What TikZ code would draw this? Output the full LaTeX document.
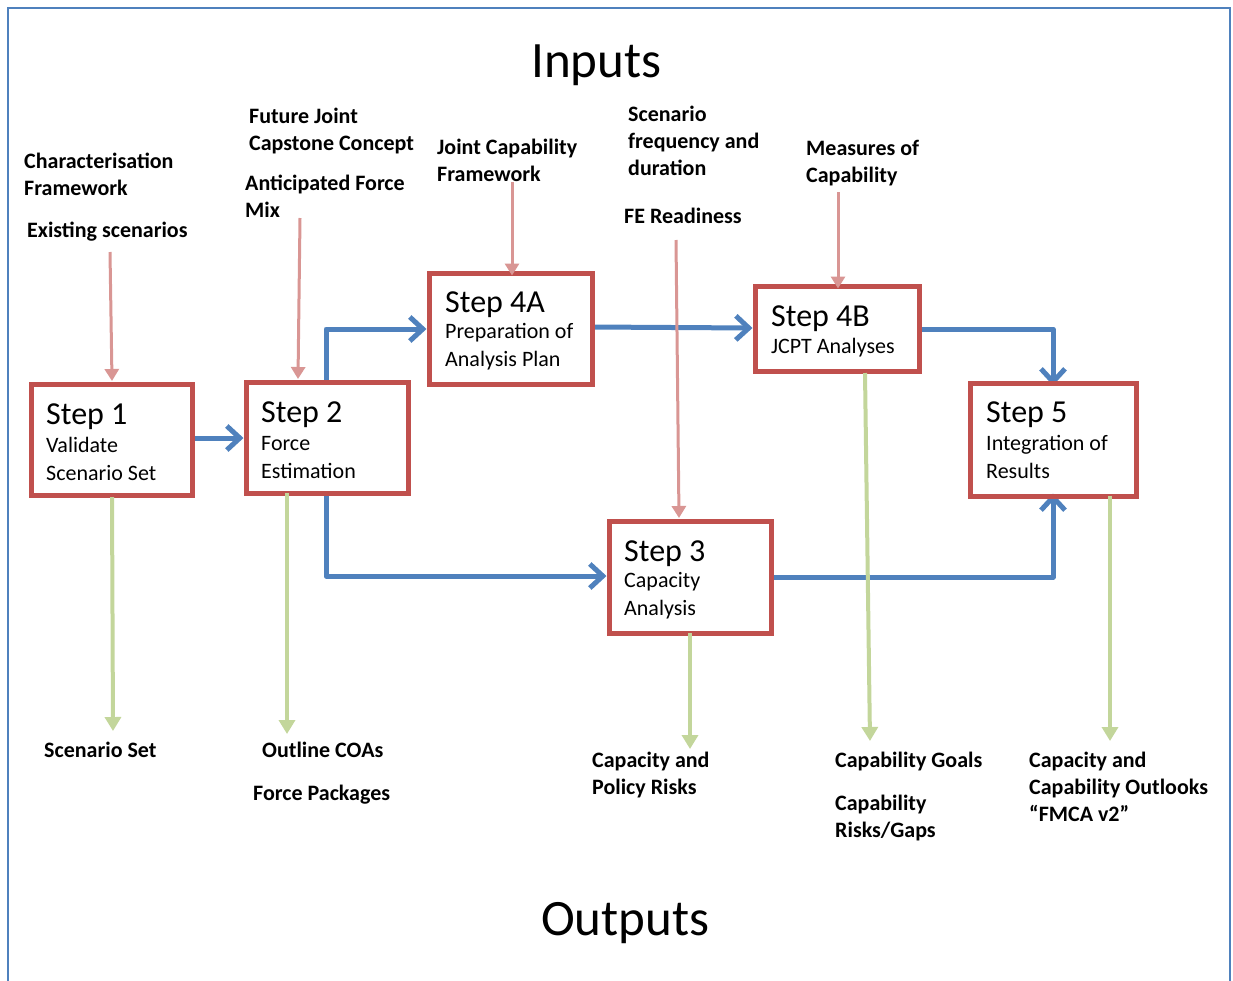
\documentclass[tikz,border=0pt]{standalone}
\usepackage{fontspec}
\setmainfont{Carlito}
\usetikzlibrary{arrows.meta}
\definecolor{boxred}{HTML}{C0504D}
\definecolor{flowblue}{HTML}{4F81BD}
\definecolor{inpink}{HTML}{D99694}
\definecolor{outgreen}{HTML}{C3D69B}
\newcommand\rows[1]{\begin{tabular}[t]{@{}l@{}}#1\end{tabular}}
\begin{document}
\begin{tikzpicture}[x=1pt,y=-1pt,
  stepbox/.style={draw=boxred,line width=5pt,fill=white,inner sep=0pt,outer sep=0pt},
  steptxt/.style={anchor=base west,inner sep=0pt,align=left,font=\fontsize{22}{27.5}\selectfont},
  lbl/.style={anchor=base west,inner sep=0pt,font=\fontsize{22}{27}\selectfont\bfseries},
  title/.style={anchor=base west,inner sep=0pt,font=\fontsize{51}{55}\selectfont},
  flow/.style={draw=flowblue,line width=5pt,line join=round,-{Straight Barb[length=13pt,width=24pt]}},
  inarrow/.style={draw=inpink,line width=3pt,-{Triangle[length=12pt,width=14pt]}},
  outarrow/.style={draw=outgreen,line width=4pt,-{Triangle[length=14pt,width=16pt]}}]
\useasboundingbox (0,0) rectangle (1233,980);
\draw[flowblue,line width=2pt] (7.5,990) -- (7.5,8) -- (1230,8) -- (1230,990);

% titles
\node[title] (inputs) at (531,77) {Inputs};
\node[title] (outputs) at (541,935) {Outputs};

% step boxes
\node[stepbox,minimum width=161pt,minimum height=111pt] (s1) at (111.5,439.5) {};
\node[stepbox,minimum width=162pt,minimum height=111pt] (s2) at (327,437.5) {};
\node[stepbox,minimum width=163pt,minimum height=111pt] (s4a) at (510.5,328.5) {};
\node[stepbox,minimum width=164pt,minimum height=85pt] (s4b) at (837,328.5) {};
\node[stepbox,minimum width=166pt,minimum height=113pt] (s5) at (1053,439.5) {};
\node[stepbox,minimum width=162pt,minimum height=112pt] (s3) at (690,577) {};

% flow connectors
\coordinate (c2u) at (326,329);
\coordinate (c2d) at (326,576);
\coordinate (c5u) at (1053,329);
\coordinate (c5d) at (1053,577);
\draw[flow] (s1.east |- 0,438) -- ([xshift=-2.5pt]s2.west |- 0,438);
\draw[flow] (s2.north -| c2u) -- (c2u) -- ([xshift=-2.5pt]s4a.west |- c2u);
\draw[flow] (s4a.east |- 0,327) -- ([xshift=-2.5pt]s4b.west |- 0,328);
\draw[flow] (s4b.east |- c5u) -- (c5u) -- ([yshift=-2.5pt]s5.north);
\draw[flow] (s2.south -| c2d) -- (c2d) -- ([xshift=-2.5pt]s3.west |- c2d);
\draw[flow] (s3.east |- c5d) -- (c5d) -- ([yshift=2.5pt]s5.south);

% redraw boxes on top of connector ends
\foreach \b in {s1,s2,s4a,s4b,s5,s3}
  \draw[boxred,line width=5pt] (\b.north west) rectangle (\b.south east);

% step texts
\node[steptxt] (t1) at (46,424) {\rows{\fontsize{32}{36}\selectfont Step 1\\[1pt]Validate\\Scenario Set}};
\node[steptxt] (t2) at (261,422) {\rows{\fontsize{32}{36}\selectfont Step 2\\[1pt]Force\\Estimation}};
\node[steptxt] (t4a) at (445,312) {\rows{\fontsize{32}{36}\selectfont Step 4A\\[-1pt]Preparation of\\Analysis Plan}};
\node[steptxt] (t4b) at (771,326) {\rows{\fontsize{32}{36}\selectfont Step 4B\\[0pt]JCPT Analyses}};
\node[steptxt] (t5) at (986,422) {\rows{\fontsize{32}{36}\selectfont Step 5\\[1pt]Integration of\\Results}};
\node[steptxt] (t3) at (624,561) {\rows{\fontsize{32}{36}\selectfont Step 3\\[-1pt]Capacity\\Analysis}};

% input labels
\node[lbl] (i1a) at (24,168) {\rows{Characterisation\\Framework}};
\node[lbl] (i1b) at (27,237) {Existing scenarios};
\node[lbl] (i2a) at (249,123) {\rows{Future Joint\\Capstone Concept}};
\node[lbl] (i2b) at (245,190) {\rows{Anticipated Force\\Mix}};
\node[lbl] (i4a) at (437,154) {\rows{Joint Capability\\Framework}};
\node[lbl] (i3a) at (628,121) {\rows{Scenario\\frequency and\\duration}};
\node[lbl] (i3b) at (624,223) {FE Readiness};
\node[lbl] (i4b) at (806,155) {\rows{Measures of\\Capability}};

% output labels
\node[lbl] (o1) at (44,757) {Scenario Set};
\node[lbl] (o2a) at (262,757) {Outline COAs};
\node[lbl] (o2b) at (253,800) {Force Packages};
\node[lbl] (o3) at (592,767) {\rows{Capacity and\\Policy Risks}};
\node[lbl] (o4a) at (835,767) {Capability Goals};
\node[lbl] (o4b) at (835,810) {\rows{Capability\\Risks/Gaps}};
\node[lbl] (o5) at (1029,767) {\rows{Capacity and\\Capability Outlooks\\“FMCA v2”}};

% input arrows
\coordinate (p1) at (110,252);
\coordinate (p2) at (300,218);
\coordinate (p4a) at (512,182);
\coordinate (p3) at (676,240);
\coordinate (p4b) at (838,192);
\draw[inarrow] (p1) -- (112,381);
\draw[inarrow] (p2) -- (298,379);
\draw[inarrow] (p4a) -- ([yshift=-2.5pt]s4a.north -| p4a);
\draw[inarrow] (p3) -- (679,518);
\draw[inarrow] (p4b) -- ([yshift=-2.5pt]s4b.north -| p4b);

% output arrows
\coordinate (g1) at (113,731);
\coordinate (g2) at (287,734);
\coordinate (g3) at (690,749);
\coordinate (g4) at (870,741);
\coordinate (g5) at (1110,741);
\draw[outarrow] (112,497) -- (g1);
\draw[outarrow] (s2.south -| g2) -- (g2);
\draw[outarrow] (s3.south -| g3) -- (g3);
\draw[outarrow] (865,373) -- (g4);
\draw[outarrow] (s5.south -| g5) -- (g5);
\end{tikzpicture}
\end{document}
